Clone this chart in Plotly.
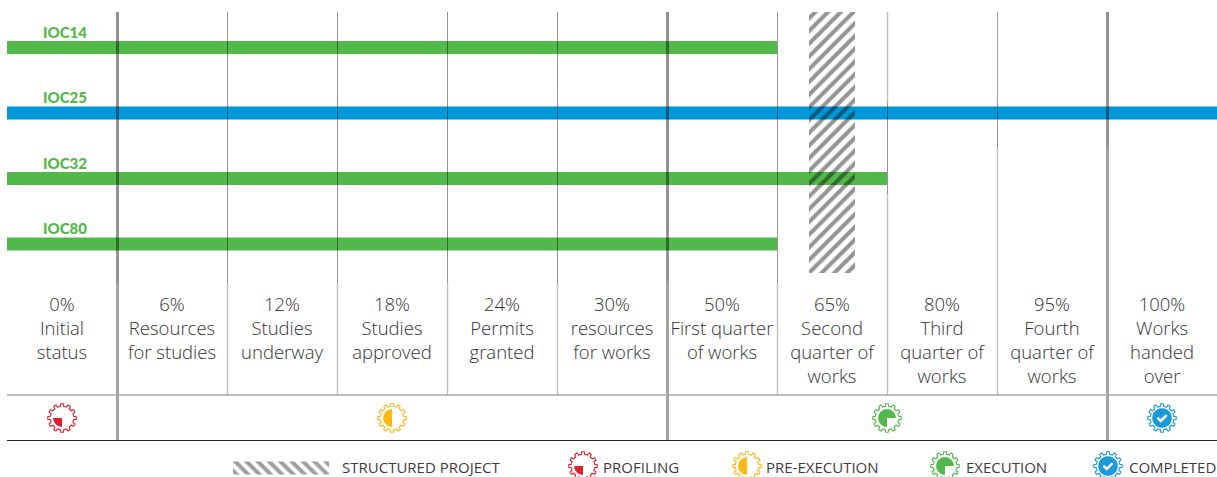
import math
import plotly.graph_objects as go

# ---- data ----
projects = ["IOC14", "IOC25", "IOC32", "IOC80"]
stages_reached = [7, 11, 8, 7]
project_colors = ["#52b84a", "#0098d8", "#52b84a", "#52b84a"]
stage_labels = [
    "0%<br>Initial<br>status",
    "6%<br>Resources<br>for studies",
    "12%<br>Studies<br>underway",
    "18%<br>Studies<br>approved",
    "24%<br>Permits<br>granted",
    "30%<br>resources<br>for works",
    "50%<br>First quarter<br>of works",
    "65%<br>Second<br>quarter of<br>works",
    "80%<br>Third<br>quarter of<br>works",
    "95%<br>Fourth<br>quarter of<br>works",
    "100%<br>Works<br>handed<br>over",
]
stage_centers = [i + 0.5 for i in range(len(stage_labels))]
phases = ["PROFILING", "PRE-EXECUTION", "EXECUTION", "COMPLETED"]
phase_colors = ["#e0202f", "#fdb913", "#52b84a", "#1a9ad9"]
phase_starts = [0, 1, 6, 10]
phase_ends = [1, 6, 10, 11]

# ---- layout helpers (page pixels to axis values) ----
W, H = 1217, 477
X0, CELL = 7.0, 110.0
Y0, ROW = 47.5, 65.5


def xd(px):
    return (px - X0) / CELL


def yd(py):
    return (py - Y0) / ROW


fig = go.Figure()

# project bars
fig.add_trace(go.Bar(
    y=list(range(len(projects))), x=stages_reached, orientation="h", width=13 / ROW,
    marker=dict(color=project_colors, line=dict(width=0)), showlegend=False, hoverinfo="x+y",
))

# structured project hatch
fig.add_trace(go.Bar(
    y=[yd((12 + 273) / 2)], x=[xd(855) - xd(809)], base=[xd(809)], orientation="h",
    width=261 / ROW,
    marker=dict(color="rgba(0,0,0,0)", line=dict(width=0),
                pattern=dict(shape="/", size=9, solidity=0.45,
                             fgcolor="#000000", fgopacity=0.42, bgcolor="rgba(0,0,0,0)")),
    showlegend=False, name="STRUCTURED PROJECT",
))
# legend swatch
fig.add_trace(go.Bar(
    y=[yd(468)], x=[xd(329) - xd(233)], base=[xd(233)], orientation="h", width=13 / ROW,
    marker=dict(color="rgba(0,0,0,0)", line=dict(width=0),
                pattern=dict(shape="\\", size=8, solidity=0.5,
                             fgcolor="#000000", fgopacity=0.38, bgcolor="rgba(0,0,0,0)")),
    showlegend=False, name="STRUCTURED PROJECT",
))

shapes = []


def line(px0, py0, px1, py1, color, width):
    shapes.append(dict(type="line", xref="x", yref="y", x0=xd(px0), x1=xd(px1), y0=yd(py0), y1=yd(py1),
                       line=dict(color=color, width=width), layer="above"))


LIGHT = "rgba(0,0,0,0.24)"
DARK = "rgba(0,0,0,0.42)"
thick = {1, 6, 10}
for i in range(1, 11):
    px = X0 + i * CELL + 0.5
    w = 3 if i in thick else 1
    if i <= 7:
        line(px, 12, px, 283, DARK, w)
        line(px, 283, px, 395, LIGHT if i not in thick else "rgba(0,0,0,0.36)", w if i in thick else 1.5)
    elif i == 8:
        line(px, 12, px, 103, LIGHT, 1.5)
        line(px, 103, px, 194, DARK, 1)
        line(px, 194, px, 395, LIGHT, 1.5)
    elif i == 9:
        line(px, 12, px, 103, "rgba(0,0,0,0.34)", 1.2)
        line(px, 103, px, 148, DARK, 1)
        line(px, 148, px, 395, LIGHT, 1.5)
    else:
        line(px, 12, px, 148, DARK, 3)
        line(px, 148, px, 395, "rgba(0,0,0,0.36)", 3)
    if i in thick:
        line(px, 395, px, 440, "rgba(0,0,0,0.36)", 3)
line(7, 395, 1217, 395, "#aaaaaa", 1.5)
line(7, 440.5, 1217, 440.5, "#222222", 1.2)


def gear_path(r_in=14.0, r_out=17.5, teeth=12):
    pts = []
    for t in range(teeth):
        a = 2 * math.pi * t / teeth
        step = 2 * math.pi / teeth
        for frac, r in ((-0.27, r_in), (-0.17, r_out), (0.17, r_out), (0.27, r_in)):
            ang = a + frac * step
            pts.append((r * math.cos(ang), r * math.sin(ang)))
    return "M" + " L".join(f"{x:.2f},{y:.2f}" for x, y in pts) + " Z"


def wedge(a0, a1, r=10.5):
    n = 24
    pts = ["M0,0"]
    for k in range(n + 1):
        a = math.radians(a0 + (a1 - a0) * k / n)
        pts.append(f"L{r * math.cos(a):.2f},{r * math.sin(a):.2f}")
    return " ".join(pts) + " Z"


def icon(px, py, phase, scale=1.0):
    col = phase_colors[phase]
    base = dict(type="path", xref="x", yref="y", xsizemode="pixel", ysizemode="pixel",
                xanchor=xd(px), yanchor=yd(py), layer="above")
    shapes.append({**base, "path": gear_path(14.0 * scale, 17.0 * scale),
                   "line": dict(color=col, width=1.1), "fillcolor": "rgba(255,255,255,0)"})
    r = 10.5 * scale
    # pixel paths use an upward y, so angles here are measured counter-clockwise
    if phase == 0:
        shapes.append({**base, "path": wedge(180, 270, r), "line": dict(width=0), "fillcolor": col})
    elif phase == 1:
        shapes.append({**base, "path": wedge(90, 270, r), "line": dict(width=0), "fillcolor": col})
    elif phase == 2:
        shapes.append({**base, "path": wedge(0, 270, r), "line": dict(width=0), "fillcolor": col})
    else:
        shapes.append({**base, "path": wedge(0, 360, r + 1), "line": dict(width=0), "fillcolor": col})
        s = scale
        shapes.append({**base,
                       "path": f"M{-5.5*s:.2f},{0.5*s:.2f} L{-1.5*s:.2f},{-3.5*s:.2f} L{5.5*s:.2f},{3.5*s:.2f}",
                       "line": dict(color="white", width=2.4), "fillcolor": "rgba(0,0,0,0)"})


for p in range(len(phases)):
    center = (phase_starts[p] + phase_ends[p]) / 2
    icon(X0 + center * CELL, 418, p, 0.84)

annotations = []
for r, name in enumerate(projects):
    annotations.append(dict(x=0.53, y=r, yshift=16, text=name, showarrow=False,
                            font=dict(family="Lato", size=15, color="#52b84a", weight=900),
                            xref="x", yref="y", xanchor="center", yanchor="middle"))

legend_font = dict(family="Open Sans", size=15, color="#3c3c3c")
legend_text_x = [602, 765, 965, 1127.5]
legend_icon_x = [583, 747, 945, 1108]
annotations.append(dict(x=xd(341), y=yd(467), text="STRUCTURED PROJECT", showarrow=False, xref="x", yref="y",
                        xanchor="left", yanchor="middle", font=legend_font, borderpad=0))
for p, name in enumerate(phases):
    annotations.append(dict(x=xd(legend_text_x[p]), y=yd(467), text=name, showarrow=False,
                            xref="x", yref="y", xanchor="left", yanchor="middle", font=legend_font, borderpad=0))
    icon(legend_icon_x[p], 466, p, 0.84)

fig.update_layout(
    width=W, height=H, margin=dict(l=0, r=0, t=0, b=0), paper_bgcolor="white", plot_bgcolor="white",
    barmode="overlay", showlegend=False, shapes=shapes, annotations=annotations,
    xaxis=dict(range=[xd(0), xd(W)], showgrid=False, zeroline=False, showline=False, ticks="",
               tickmode="array", tickvals=stage_centers, ticktext=stage_labels, tickangle=0,
               tickfont=dict(family="Open Sans", size=18.5, color="#333333", weight=300),
               anchor="free", position=1 - 291.5 / H, side="bottom"),
    yaxis=dict(range=[yd(H), yd(0)], showgrid=False, zeroline=False, showline=False, showticklabels=False,
               tickmode="array", tickvals=list(range(len(projects))), ticktext=projects),
)

fig.write_html("out.html", config={"displayModeBar": False},
               post_script="document.body.style.margin='0';document.body.style.overflow='hidden';")
